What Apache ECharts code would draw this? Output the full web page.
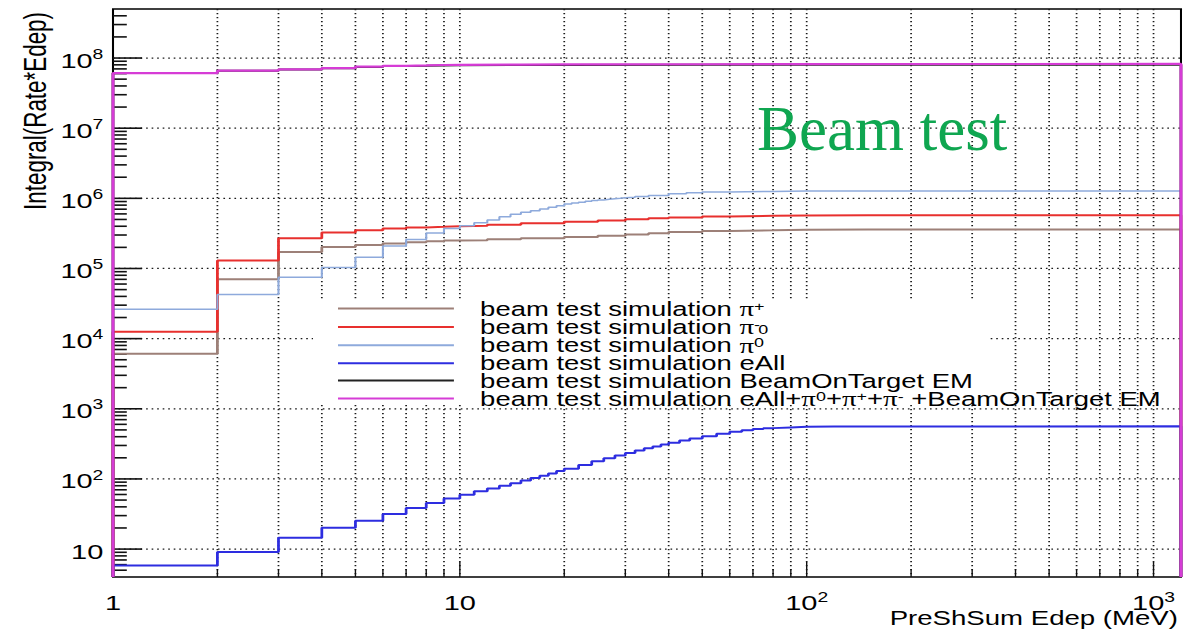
<!DOCTYPE html>
<html>
<head>
<meta charset="utf-8">
<title>Integral(Rate*Edep) vs PreShSum Edep</title>
<script src="https://cdn.jsdelivr.net/npm/echarts@6/dist/echarts.min.js"></script>
<style>
html, body { margin: 0; padding: 0; background: #fff; overflow: hidden; }
#page { position: absolute; left: 0; top: 0; width: 1186px; height: 631px; overflow: hidden; background: #fff; }
#chart { position: absolute; left: 0; top: 0; height: 631px; transform-origin: 0 0; }
</style>
</head>
<body>
<div id="page"><div id="chart"></div></div>
<script>
// The ROOT canvas is shown widened horizontally; the chart is laid out
// narrower and stretched with a CSS transform.
const STRETCH = 1.38;
const PAGE_W = 1186, PAGE_H = 631;
const CHART_W = PAGE_W / STRETCH;

// Axis ranges
const X_MIN = 1, X_MAX = 1200;
const Y_MIN = 4, Y_MAX = 5e8;

// Log-axis decades and the 2..9 sub-divisions used for minor ticks
const xDecades = [1, 10, 100, 1000];
const yDecades = [1, 10, 1e2, 1e3, 1e4, 1e5, 1e6, 1e7, 1e8];
const tickMultiples = [1, 2, 3, 4, 5, 6, 7, 8, 9];

const seriesNames = ['piPlus', 'piMinus', 'piZero', 'eAll', 'beamOnTarget', 'sumAll'];
const legendLabels = [
  'beam test simulation {pi|π}{sup|+}',
  'beam test simulation {pi|π}{supn|-}{sub|0}',
  'beam test simulation {pi|π}{sup|0}',
  'beam test simulation eAll',
  'beam test simulation BeamOnTarget EM',
  'beam test simulation eAll+{pi|π}{sup|0}+{pi|π}{sup|+}+{pi|π}{sup|-} +BeamOnTarget EM'
];
const seriesColors = ['#9d8078', '#e8302e', '#8eaadc', '#2d2de0', '#222222', '#d63cd6'];
const seriesWidths = [2, 2, 1.5, 2, 2, 2.2];

// Integrated rate*Edep per bin: [bin lower edge (MeV), value]; the last
// entry closes the histogram at the upper axis edge.
const piPlus = [
  [1, 6.07e3], [2, 7.05e4], [3, 1.72e5], [4, 2.03e5], [5, 2.17e5], [6, 2.27e5],
  [7, 2.37e5], [8, 2.45e5], [9, 2.51e5], [10, 2.53e5], [12, 2.6e5], [15, 2.7e5],
  [20, 2.82e5], [25, 2.94e5], [30, 3.05e5], [35, 3.18e5], [40, 3.3e5], [50, 3.43e5],
  [60, 3.5e5], [80, 3.56e5], [100, 3.59e5], [150, 3.6e5], [1200, 3.6e5]
];
const piMinus = [
  [1, 1.25e4], [2, 1.30e5], [3, 2.70e5], [4, 3.26e5], [5, 3.52e5], [6, 3.72e5],
  [7, 3.84e5], [8, 3.92e5], [9, 4.0e5], [10, 4.05e5], [12, 4.2e5], [15, 4.4e5],
  [20, 4.65e5], [25, 4.85e5], [30, 5.05e5], [35, 5.2e5], [40, 5.33e5], [50, 5.53e5],
  [60, 5.63e5], [80, 5.7e5], [100, 5.73e5], [150, 5.74e5], [1200, 5.74e5]
];
const piZero = [
  [1, 2.63e4], [2, 4.27e4], [3, 7.5e4], [4, 1.03e5], [5, 1.45e5], [6, 2.1e5],
  [7, 2.59e5], [8, 3.21e5], [9, 3.72e5], [10, 4.08e5], [11, 4.49e5], [12, 4.9e5],
  [13, 5.47e5], [14, 5.91e5], [15, 6.31e5], [16, 6.67e5], [17, 7.05e5], [18, 7.44e5],
  [19, 7.86e5], [20, 8.3e5], [21, 8.55e5], [22, 8.8e5], [23, 9.05e5], [24, 9.28e5],
  [25, 9.5e5], [26, 9.7e5], [27, 9.9e5], [28, 1.005e6], [29, 1.02e6], [30, 1.035e6],
  [32, 1.065e6], [35, 1.1e6], [40, 1.16e6], [45, 1.2e6], [50, 1.23e6], [60, 1.255e6],
  [80, 1.268e6], [100, 1.272e6], [1200, 1.272e6]
];
const eAll = [
  [1, 5.85], [2, 9.1], [3, 14.5], [4, 20.2], [5, 25.4], [6, 31.6], [7, 38.5],
  [8, 45.4], [9, 52.4], [10, 59.5], [11, 66.5], [12, 73], [13, 80], [14, 87],
  [15, 95], [16, 103], [17, 111], [18, 120], [19, 130], [20, 140], [22, 158],
  [24, 178], [26, 197], [28, 216], [30, 235], [32, 254], [34, 273], [36, 291],
  [38, 309], [40, 327], [43, 352], [46, 376], [50, 407], [55, 440], [60, 469],
  [65, 495], [70, 515], [75, 530], [80, 542], [90, 553], [100, 559], [120, 563],
  [1200, 564]
];
const beamOnTarget = [
  [1, 6.1e7], [2, 6.58e7], [3, 6.85e7], [4, 7.14e7], [5, 7.48e7], [6, 7.67e7],
  [7, 7.76e7], [8, 7.85e7], [9, 7.89e7], [10, 7.94e7], [15, 7.95e7], [20, 7.99e7],
  [50, 7.99e7], [100, 8.02e7], [1200, 8.02e7]
];
const sumAll = [
  [1, 6.1e7], [2, 6.6e7], [3, 6.9e7], [4, 7.2e7], [5, 7.55e7], [6, 7.75e7],
  [7, 7.85e7], [8, 7.95e7], [9, 8.0e7], [10, 8.05e7], [15, 8.1e7], [20, 8.15e7],
  [50, 8.2e7], [100, 8.24e7], [1200, 8.24e7]
];
const seriesData = [piPlus, piMinus, piZero, eAll, beamOnTarget, sumAll];

// Histogram outline: drop to the axis floor at both ends
function withEdges(points) {
  const first = points[0][0], last = points[points.length - 1][0];
  return [[first, Y_MIN]].concat(points, [[last, Y_MIN]]);
}

// Tick positions: every 1..9 x 10^k inside the axis range; flag 1 = decade
const xTickData = [];
xDecades.forEach(d => tickMultiples.forEach(m => {
  const v = d * m;
  if (v > X_MIN && v <= X_MAX) xTickData.push([v, Y_MIN, m === 1 ? 1 : 0]);
}));
const yTickData = [];
yDecades.forEach(d => tickMultiples.forEach(m => {
  const v = d * m;
  if (v > Y_MIN && v < Y_MAX) yTickData.push([X_MIN, v, m === 1 ? 1 : 0]);
}));

const GRID_STYLE = { stroke: '#1a1a1a', lineWidth: 1.25, lineDash: [1.2, 2.8] };

function renderXTick(params, api) {
  const x = api.value(0), major = api.value(2);
  const lo = api.coord([x, Y_MIN]), hi = api.coord([x, Y_MAX]);
  return {
    type: 'group',
    children: [
      { type: 'line', shape: { x1: lo[0], y1: hi[1], x2: lo[0], y2: lo[1] }, style: GRID_STYLE },
      { type: 'line', shape: { x1: lo[0], y1: lo[1], x2: lo[0], y2: lo[1] - (major ? 15 : 8) },
        style: { stroke: '#111', lineWidth: 1 } }
    ]
  };
}

function renderYTick(params, api) {
  const y = api.value(1), major = api.value(2);
  const lo = api.coord([X_MIN, y]), hi = api.coord([X_MAX, y]);
  const children = [];
  if (major) {
    children.push({ type: 'line', shape: { x1: lo[0], y1: lo[1], x2: hi[0], y2: lo[1] }, style: GRID_STYLE });
  }
  children.push({ type: 'line', shape: { x1: lo[0], y1: lo[1], x2: lo[0] + (major ? 21 : 10), y2: lo[1] },
    style: { stroke: '#111', lineWidth: 1.6 } });
  return { type: 'group', children };
}

// Labels only on decades: 1, 10, 10^2, ...
function powerLabel(v) {
  const e = Math.round(Math.log10(v));
  if (Math.abs(v / Math.pow(10, e) - 1) > 1e-6) return '';
  if (e === 0) return '1';
  if (e === 1) return '10';
  return '10{sup|' + e + '}';
}

const FONT = 'Liberation Sans';
const labelRich = {
  sup: { fontFamily: FONT, fontSize: 14, lineHeight: 14, verticalAlign: 'top', color: '#000' }
};

const chartDom = document.getElementById('chart');
chartDom.style.width = CHART_W + 'px';
chartDom.style.transform = 'scaleX(' + STRETCH + ')';

const chart = echarts.init(chartDom, null, { renderer: 'svg', width: CHART_W, height: PAGE_H });

const lineSeries = seriesNames.map((name, i) => ({
  name: name,
  type: 'line',
  step: 'end',
  symbol: 'none',
  showSymbol: false,
  clip: false,
  silent: true,
  z: 2,
  color: seriesColors[i],
  lineStyle: { color: seriesColors[i], width: seriesWidths[i] },
  data: withEdges(seriesData[i])
}));

chart.setOption({
  animation: false,
  backgroundColor: '#fff',
  textStyle: { fontFamily: FONT },
  grid: {
    left: 113 / STRETCH,
    right: CHART_W - 1181 / STRETCH,
    top: 9,
    bottom: 54,
    containLabel: false,
    outerBoundsMode: 'none',
    show: true,
    borderColor: '#000',
    borderWidth: 1.5,
    backgroundColor: 'transparent'
  },
  xAxis: {
    type: 'log',
    logBase: 10,
    min: X_MIN,
    max: X_MAX,
    name: 'PreShSum Edep (MeV)',
    nameLocation: 'end',
    nameGap: -2.2,
    nameMoveOverlap: false,
    nameTextStyle: { fontFamily: FONT, fontSize: 20, color: '#000', align: 'right', verticalAlign: 'top', padding: [31, 0, 0, 0] },
    axisLine: { show: false },
    axisTick: { show: false },
    splitLine: { show: false },
    axisLabel: {
      formatter: powerLabel,
      fontFamily: FONT,
      fontSize: 21,
      lineHeight: 26,
      color: '#000',
      margin: 13,
      rich: labelRich
    }
  },
  yAxis: {
    type: 'log',
    logBase: 10,
    min: Y_MIN,
    max: Y_MAX,
    name: 'Integral(Rate*Edep)',
    nameLocation: 'end',
    nameRotate: 90,
    nameGap: -3,
    nameMoveOverlap: false,
    nameTextStyle: { fontFamily: FONT, fontSize: 22.4, lineHeight: 24, color: '#000', align: 'right', verticalAlign: 'bottom', padding: [0, 0, 44, 0] },
    axisLine: { show: false },
    axisTick: { show: false },
    splitLine: { show: false },
    axisLabel: {
      formatter: powerLabel,
      fontFamily: FONT,
      fontSize: 21,
      lineHeight: 26,
      color: '#000',
      margin: 7,
      padding: [4, 0, 0, 0],
      rich: labelRich
    }
  },
  legend: {
    data: seriesNames,
    orient: 'vertical',
    left: 338 / STRETCH,
    top: 298,
    padding: 0,
    itemWidth: 84,
    itemHeight: 2,
    itemGap: -2.6,
    icon: 'rect',
    selectedMode: false,
    formatter: name => legendLabels[seriesNames.indexOf(name)],
    textStyle: {
      fontFamily: FONT,
      fontSize: 19.9,
      lineHeight: 18,
      color: '#000',
      padding: [0, 0, 0, 14],
      rich: {
        pi: { fontFamily: 'Liberation Serif', fontSize: 21, lineHeight: 18, color: '#000' },
        sup: { fontFamily: FONT, fontSize: 13, lineHeight: 2, verticalAlign: 'top', color: '#000' },
        supn: { fontFamily: FONT, fontSize: 13, lineHeight: 2, verticalAlign: 'top', color: '#000', width: 3 },
        sub: { fontFamily: FONT, fontSize: 13, lineHeight: 8, verticalAlign: 'bottom', color: '#000' }
      }
    }
  },
  graphic: [
    {
      type: 'rect', z: 3, silent: true,
      shape: { x: 313 / STRETCH, y: 300, width: (990 - 313) / STRETCH, height: 105 },
      style: { fill: '#fff' }
    },
    {
      type: 'text', z: 5, silent: true,
      x: 757 / STRETCH, y: 129, scaleX: 1 / STRETCH,
      style: { text: 'Beam test', fill: '#0fa650', font: '63px "Liberation Serif"', textVerticalAlign: 'middle' }
    }
  ],
  series: [
    {
      type: 'custom', name: 'xTicks', silent: true, z: 1, clip: false,
      renderItem: renderXTick, data: xTickData
    },
    {
      type: 'custom', name: 'yTicks', silent: true, z: 1, clip: false,
      renderItem: renderYTick, data: yTickData
    }
  ].concat(lineSeries)
});
</script>
</body>
</html>
